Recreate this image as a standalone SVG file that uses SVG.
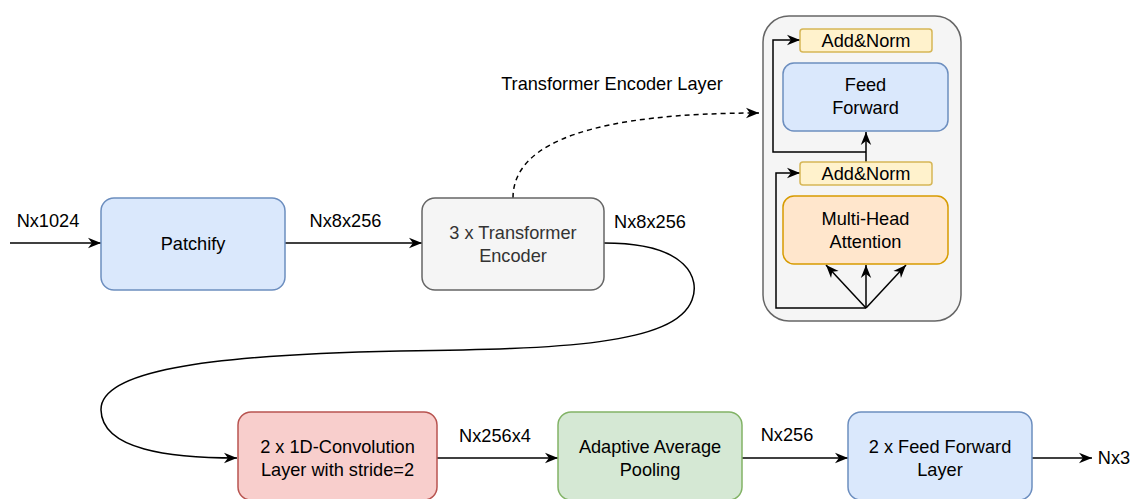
<svg xmlns="http://www.w3.org/2000/svg" width="1131" height="499" viewBox="0 0 1131 499">
  <style>
    text { font-family: "Liberation Sans", Arial, sans-serif; font-size: 18.2px; fill: #000; text-anchor: middle; dominant-baseline: central; }
    .grey { fill: #333333; }
    .edge { fill: none; stroke: #000; stroke-width: 1.5; }
    .blue { fill: #dae8fc; stroke: #6c8ebf; stroke-width: 1.5; }
    .gray { fill: #f5f5f5; stroke: #666666; stroke-width: 1.5; }
    .red { fill: #f8cecc; stroke: #b85450; stroke-width: 1.5; }
    .green { fill: #d5e8d4; stroke: #82b366; stroke-width: 1.5; }
    .yellow { fill: #fff2cc; stroke: #d6b656; stroke-width: 1.5; }
    .orange { fill: #ffe6cc; stroke: #d79b00; stroke-width: 1.5; }
  </style>
  <defs>
    <marker id="arr" viewBox="0 0 10 10" refX="10" refY="5" markerWidth="13" markerHeight="13" markerUnits="userSpaceOnUse" orient="auto">
      <path d="M0,1 L10,5 L0,9 L3,5 Z" fill="#000"/>
    </marker>
  </defs>

  <rect width="1131" height="499" fill="#ffffff"/>

  <g id="panel">
    <rect x="763" y="16" width="198" height="305" rx="26" ry="26" fill="#f5f5f5" stroke="#666666" stroke-width="1.5"/>
  </g>

  <g id="connectors">
    <path class="edge" d="M10,243 L101,243" marker-end="url(#arr)"/>
    <path class="edge" d="M285,243 L422,243" marker-end="url(#arr)"/>
    <path class="edge" d="M513,198 C513,140 600,113 759,113" stroke-dasharray="5 4" marker-end="url(#arr)"/>
    <path class="edge" d="M604,243 C690,243 700,280 692,300 C675,345 560,349 400,351 C200,355 100,372 101,410 C102,450 170,458 237,458" marker-end="url(#arr)"/>
    <path class="edge" d="M437,458 L558,458" marker-end="url(#arr)"/>
    <path class="edge" d="M742,458 L848,458" marker-end="url(#arr)"/>
    <path class="edge" d="M1032,458 L1092,458" marker-end="url(#arr)"/>
    <path class="edge" d="M866,308 L826,265" marker-end="url(#arr)"/>
    <path class="edge" d="M866,308 L866,265" marker-end="url(#arr)"/>
    <path class="edge" d="M866,308 L906,265" marker-end="url(#arr)"/>
    <path class="edge" d="M866,308 L776,308 L776,173 L800,173" marker-end="url(#arr)"/>
    <path class="edge" d="M866,162 L866,132" marker-end="url(#arr)"/>
    <path class="edge" d="M866,152 L773,152 L773,40 L800,40" marker-end="url(#arr)"/>
  </g>

  <g id="patchify">
    <rect class="blue" x="101" y="198" width="184" height="92" rx="13"/>
    <text x="193" y="244">Patchify</text>
  </g>
  <g id="transformer-encoder">
    <rect class="gray" x="422" y="198" width="182" height="92" rx="13"/>
    <text class="grey" x="513" y="233">3 x Transformer</text>
    <text class="grey" x="513" y="256">Encoder</text>
  </g>
  <g id="conv">
    <rect class="red" x="238" y="412" width="199" height="88" rx="13"/>
    <text x="337.5" y="447">2 x 1D-Convolution</text>
    <text x="337.5" y="470">Layer with stride=2</text>
  </g>
  <g id="pooling">
    <rect class="green" x="558" y="412" width="184" height="88" rx="13"/>
    <text x="650" y="447">Adaptive Average</text>
    <text x="650" y="470">Pooling</text>
  </g>
  <g id="ff-layer">
    <rect class="blue" x="848" y="412" width="184" height="88" rx="13"/>
    <text x="940" y="447">2 x Feed Forward</text>
    <text x="940" y="470">Layer</text>
  </g>

  <g id="addnorm-top">
    <rect class="yellow" x="800" y="29" width="132" height="23" rx="3"/>
    <text x="866" y="40.5">Add&amp;Norm</text>
  </g>
  <g id="feed-forward">
    <rect class="blue" x="783" y="63" width="165" height="68" rx="11"/>
    <text x="865.5" y="85">Feed</text>
    <text x="865.5" y="108">Forward</text>
  </g>
  <g id="addnorm-bottom">
    <rect class="yellow" x="800" y="162" width="132" height="23" rx="3"/>
    <text x="866" y="173.5">Add&amp;Norm</text>
  </g>
  <g id="mha">
    <rect class="orange" x="783" y="196" width="165" height="68" rx="11"/>
    <text x="865.5" y="219">Multi-Head</text>
    <text x="865.5" y="242">Attention</text>
  </g>

  <g id="labels">
    <text x="48" y="221">Nx1024</text>
    <text x="345.5" y="221">Nx8x256</text>
    <text x="650" y="222">Nx8x256</text>
    <text x="612" y="84">Transformer Encoder Layer</text>
    <text x="495" y="436">Nx256x4</text>
    <text x="787" y="435">Nx256</text>
    <text x="1114" y="458">Nx3</text>
  </g>
</svg>
